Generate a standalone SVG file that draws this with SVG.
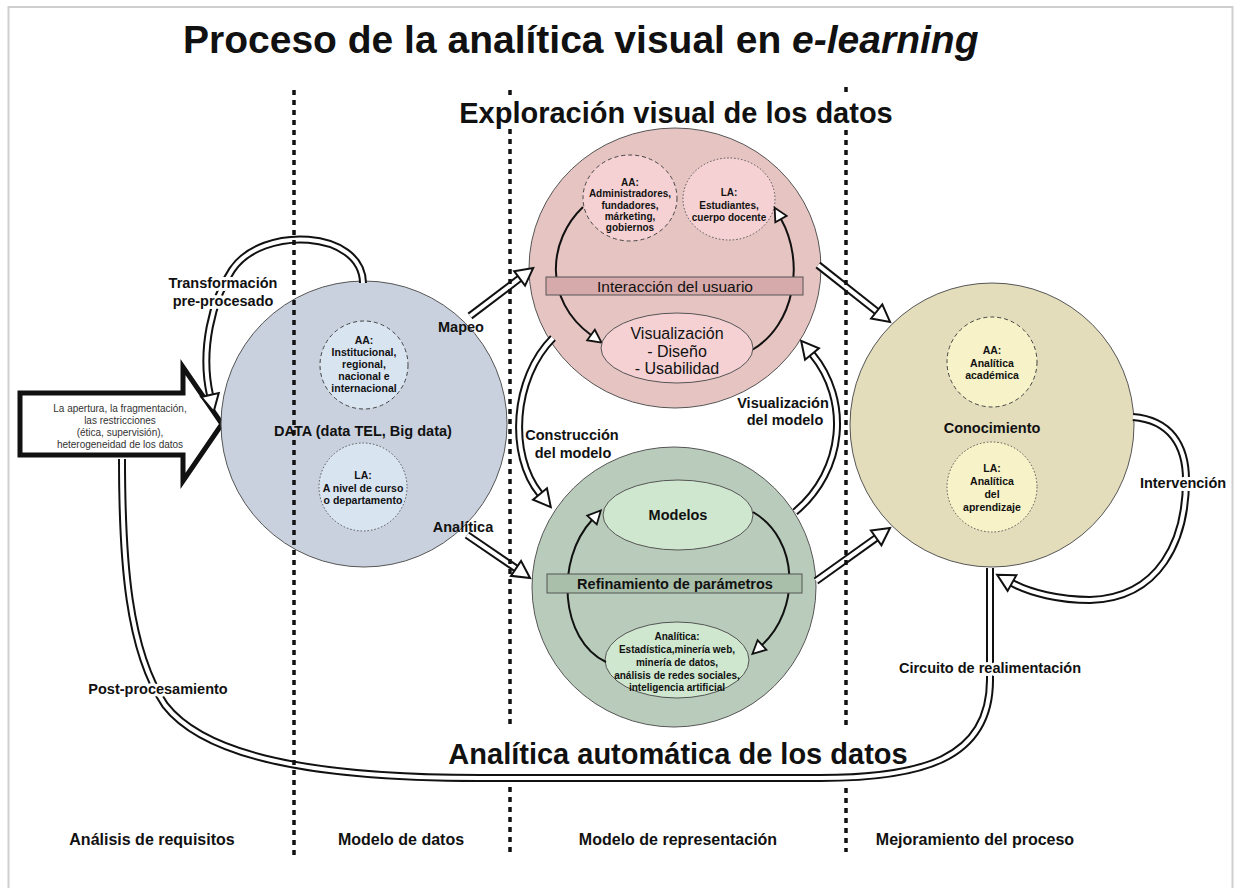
<svg xmlns="http://www.w3.org/2000/svg" width="1235" height="888" viewBox="0 0 1235 888">
<style>
.t{font-family:"Liberation Sans",Arial,Helvetica,sans-serif;fill:#111}
.b{font-weight:bold}
.c{text-anchor:middle}
.s{font-size:10.5px}
.m{font-size:14.5px}
.halo{paint-order:stroke;stroke:#fff;stroke-width:6px;stroke-linejoin:round}
.dlo{fill:none;stroke:#111;stroke-width:8}
.dli{fill:none;stroke:#fff;stroke-width:4}
.arc{fill:none;stroke:#111;stroke-width:2}
.sep{stroke:#111;stroke-width:3.5;stroke-dasharray:5 5;fill:none}
.node{stroke:#555;stroke-width:1}
.dash{stroke:#444;stroke-width:1;stroke-dasharray:4 3}
.dot{stroke:#555;stroke-width:1;stroke-dasharray:1.5 2}
.band{stroke:#555;stroke-width:1}
</style>
<defs>
<marker id="ah" markerUnits="userSpaceOnUse" viewBox="0 0 20 22" markerWidth="20" markerHeight="22" refX="1" refY="11" orient="auto" overflow="visible">
<path d="M1,2 L18,11 L1,20 Z" fill="#fff" stroke="#111" stroke-width="2"/>
</marker>
<marker id="ah2" markerUnits="userSpaceOnUse" viewBox="0 0 16 16" markerWidth="16" markerHeight="16" refX="1" refY="8" orient="auto" overflow="visible">
<path d="M1,1.5 L14,8 L1,14.5 Z" fill="#fff" stroke="#111" stroke-width="1.8"/>
</marker>
</defs>
<rect x="0" y="0" width="1235" height="888" fill="#fff"/>
<rect x="8.5" y="7" width="1224" height="895" fill="none" stroke="#cfcfcf" stroke-width="2"/>

<g id="entrada">
<polygon points="20,393 183,393 183,367 222,424 183,481 183,455 20,455" fill="#fff" stroke="#111" stroke-width="5"/>
<g class="t c" font-size="10" style="fill:#333">
<text x="120" y="412">La apertura, la fragmentación,</text>
<text x="120" y="424">las restricciones</text>
<text x="120" y="436">(ética, supervisión),</text>
<text x="120" y="448">heterogeneidad de los datos</text>
</g>
</g>

<g id="data">
<circle cx="364" cy="424" r="143" fill="#c9d1de" class="node"/>
<circle cx="364" cy="365" r="44" fill="#d9e4f1" class="dash"/>
<circle cx="363" cy="487" r="44" fill="#d9e4f1" class="dot"/>
<g class="t b c s">
<text x="364" y="344">AA:</text>
<text x="364" y="356">Institucional,</text>
<text x="364" y="368">regional,</text>
<text x="364" y="380">nacional e</text>
<text x="364" y="392">internacional</text>
<text x="363" y="479">LA:</text>
<text x="363" y="492">A nivel de curso</text>
<text x="363" y="504">o departamento</text>
</g>
<text x="363" y="436" class="t b c m">DATA (data TEL, Big data)</text>
</g>

<g id="exploracion">
<ellipse cx="675" cy="268" rx="146" ry="140" fill="#e6c4c2" class="node"/>
<ellipse cx="630" cy="198" rx="47" ry="43" fill="#f5d1d4" class="dash"/>
<ellipse cx="729" cy="199" rx="46" ry="41" fill="#f5d1d4" class="dot"/>
<g class="t b c" font-size="10">
<text x="630" y="186">AA:</text>
<text x="630" y="197">Administradores,</text>
<text x="630" y="209">fundadores,</text>
<text x="630" y="220">márketing,</text>
<text x="630" y="231">gobiernos</text>
<text x="729" y="196">LA:</text>
<text x="729" y="209">Estudiantes,</text>
<text x="729" y="221">cuerpo docente</text>
</g>
<path class="arc" d="M583,207 C548,240 543,300 591,335" marker-end="url(#ah2)"/>
<path class="arc" d="M752,350 C795,325 805,262 781,219" marker-end="url(#ah2)"/>
<rect x="546" y="277" width="257" height="18" fill="#d6a9aa" class="band"/>
<text x="675" y="291.5" class="t c" font-size="15.5">Interacción del usuario</text>
<ellipse cx="677" cy="348" rx="76" ry="35" fill="#f5d1d4" class="node"/>
<g class="t c" font-size="16">
<text x="677" y="338.5">Visualización</text>
<text x="677" y="356.5">- Diseño</text>
<text x="677" y="373.5">- Usabilidad</text>
</g>
</g>

<g id="automatica">
<ellipse cx="674" cy="587" rx="142" ry="140" fill="#b9ccbb" class="node"/>
<ellipse cx="678" cy="515" rx="75" ry="35" fill="#cfe6cf" class="node"/>
<ellipse cx="677" cy="660" rx="72" ry="38" fill="#cfe6cf" class="node"/>
<text x="678" y="520" class="t b c m">Modelos</text>
<path class="arc" d="M606,662 C560,640 555,560 592,520" marker-end="url(#ah2)"/>
<path class="arc" d="M753,512 C800,540 800,610 762,645" marker-end="url(#ah2)"/>
<rect x="547" y="574" width="255" height="19" fill="#a9bfaa" class="band"/>
<text x="675" y="588.5" class="t b c m">Refinamiento de parámetros</text>
<g class="t b c" font-size="10">
<text x="677" y="640">Analítica:</text>
<text x="677" y="653">Estadística,minería web,</text>
<text x="677" y="666">minería de datos,</text>
<text x="677" y="679">análisis de redes sociales,</text>
<text x="677" y="691">inteligencia artificial</text>
</g>
</g>

<g id="conocimiento">
<circle cx="992" cy="425" r="142" fill="#e3ddbc" class="node"/>
<circle cx="992" cy="362" r="45" fill="#f7f2c7" class="dash"/>
<circle cx="992" cy="487" r="45" fill="#f7f2c7" class="dot"/>
<g class="t b c s">
<text x="992" y="354">AA:</text>
<text x="992" y="367">Analítica</text>
<text x="992" y="379">académica</text>
<text x="992" y="472">LA:</text>
<text x="992" y="485">Analítica</text>
<text x="992" y="498">del</text>
<text x="992" y="511">aprendizaje</text>
</g>
<text x="992" y="433" class="t b c m">Conocimiento</text>
</g>

<g id="connectors">
<path class="dlo" d="M363,283 C362,230 262,225 232,270 C212,300 200,350 210,395"/>
<path class="dli" d="M363,283 C362,230 262,225 232,270 C212,300 200,350 210,395" marker-end="url(#ah)"/>
<path class="dlo" d="M470,316 L519.6,278.4"/>
<path class="dli" d="M470,316 L519.6,278.4" marker-end="url(#ah)"/>
<path class="dlo" d="M467,535 L516,568.4"/>
<path class="dli" d="M467,535 L516,568.4" marker-end="url(#ah)"/>
<path class="dlo" d="M553,338 C513,378 508,455 540,494"/>
<path class="dli" d="M553,338 C513,378 508,455 540,494" marker-end="url(#ah)"/>
<path class="dlo" d="M795,512 C845,470 850,400 812,354"/>
<path class="dli" d="M795,512 C845,470 850,400 812,354" marker-end="url(#ah)"/>
<path class="dlo" d="M818,265 L876.7,311.4"/>
<path class="dli" d="M818,265 L876.7,311.4" marker-end="url(#ah)"/>
<path class="dlo" d="M816,581 L876.2,537.9"/>
<path class="dli" d="M816,581 L876.2,537.9" marker-end="url(#ah)"/>
<path class="dlo" d="M1133,417 C1170,420 1186,445 1186,480 C1186,540 1160,598 1090,600 C1060,600 1030,593 1012,583"/>
<path class="dli" d="M1133,417 C1170,420 1186,445 1186,480 C1186,540 1160,598 1090,600 C1060,600 1030,593 1012,583" marker-end="url(#ah)"/>
<path class="dlo" d="M122,459 C122,560 128,650 165,705 C200,750 290,778 480,778 L820,778 C920,778 990,760 990,680 L990,568"/>
<path class="dli" d="M122,459 C122,560 128,650 165,705 C200,750 290,778 480,778 L820,778 C920,778 990,760 990,680 L990,568"/>
</g>

<g id="separadores">
<line class="sep" x1="294" y1="90" x2="294" y2="856"/>
<line class="sep" x1="510" y1="90" x2="510" y2="97"/>
<line class="sep" x1="510" y1="129" x2="510" y2="728"/>
<line class="sep" x1="510" y1="787" x2="510" y2="856"/>
<line class="sep" x1="846" y1="87" x2="846" y2="97"/>
<line class="sep" x1="846" y1="130" x2="846" y2="728"/>
<line class="sep" x1="846" y1="788" x2="846" y2="852"/>
</g>

<g id="etiquetas" class="t b c m">
<text x="223" y="288" class="halo">Transformación</text>
<text x="223" y="306" class="halo">pre-procesado</text>
<text x="461" y="332">Mapeo</text>
<text x="463" y="532">Analítica</text>
<text x="572" y="440">Construcción</text>
<text x="573" y="458">del modelo</text>
<text x="783" y="408">Visualización</text>
<text x="785" y="425">del modelo</text>
<text x="1183" y="488" class="halo">Intervención</text>
<text x="990" y="673" class="halo">Circuito de realimentación</text>
<text x="158" y="694" class="halo">Post-procesamiento</text>
</g>

<g id="titulos" class="t b">
<text x="183" y="53" font-size="39">Proceso de la analítica visual en <tspan font-style="italic">e-learning</tspan></text>
<text x="676" y="123" font-size="29" class="c">Exploración visual de los datos</text>
<text x="678" y="764" font-size="29" class="c">Analítica automática de los datos</text>
</g>

<g id="fases" class="t b c" font-size="16">
<text x="152" y="845">Análisis de requisitos</text>
<text x="401" y="845">Modelo de datos</text>
<text x="678" y="845">Modelo de representación</text>
<text x="975" y="845">Mejoramiento del proceso</text>
</g>
</svg>
